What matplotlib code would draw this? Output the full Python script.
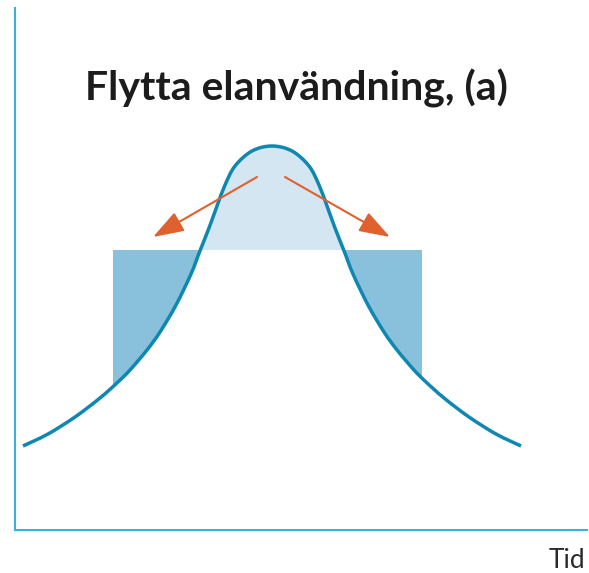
import matplotlib
matplotlib.use("Agg")
import numpy as np
import matplotlib.pyplot as plt
from matplotlib.path import Path
from matplotlib.patches import PathPatch, Rectangle

# Schematic load curve (x: time, y: load, in picture units)
tid = [8, 33, 60, 85, 103, 115, 132, 145, 161, 176, 184.5, 194, 202, 210, 220, 237, 257,
       277, 294, 304, 312, 320, 329.5, 338, 353, 369, 382, 399, 411, 429, 454, 481, 506]
last = [84, 96, 113, 132, 148, 160, 180, 198, 225, 256, 278, 302, 324, 345, 364, 379, 384,
        379, 364, 345, 324, 302, 278, 256, 225, 198, 180, 160, 148, 132, 113, 96, 84]

# Flattened block (start, end, level)
block_start = 98
block_end = 407
block_level = 280

# Arrows: (from x, from y, to x, to y)
arrows = [(242, 353, 138, 293), (270, 353, 375, 293)]

title = "Flytta elanvändning, (a)"
xlabel = "Tid"

curve_color = "#0e87b1"
dark_fill = "#89c0dc"
light_fill = "#d4e6f2"
arrow_color = "#e0612e"
axis_color = "#3ab1dc"


def smooth_path(xs, ys, close_to=None):
    # cubic bezier through the read points (catmull-rom style handles)
    p = np.column_stack([xs, ys]).astype(float)
    ext = np.vstack([p[0], p, p[-1]])
    verts = [p[0]]
    codes = [Path.MOVETO]
    for i in range(len(p) - 1):
        a, b, c, d = ext[i], ext[i + 1], ext[i + 2], ext[i + 3]
        verts += [b + (c - a) / 6, c - (d - b) / 6, c]
        codes += [Path.CURVE4] * 3
    if close_to is not None:
        verts += [(p[-1, 0], close_to), (p[0, 0], close_to), p[0]]
        codes += [Path.LINETO, Path.LINETO, Path.CLOSEPOLY]
    return Path(verts, codes)


fig = plt.figure(figsize=(5.89, 5.73), dpi=100)
ax = fig.add_axes([15 / 589, 43 / 573, 572 / 589, 522 / 573])
ax.set_xlim(0, 572)
ax.set_ylim(0, 522)

# block part that fills the valley (dark)
ax.add_patch(Rectangle((block_start, 0), block_end - block_start, block_level,
                       color=dark_fill, lw=0, zorder=1))
# area under the curve stays white
under = PathPatch(smooth_path(tid, last, close_to=0), facecolor="white",
                  edgecolor="none", zorder=1.5)
ax.add_patch(under)
# peak above the block level (light)
peak = Rectangle((block_start, block_level), block_end - block_start, 200,
                 color=light_fill, lw=0, zorder=1.6)
ax.add_patch(peak)
peak.set_clip_path(under)

ax.add_patch(PathPatch(smooth_path(tid, last), facecolor="none",
                       edgecolor=curve_color, lw=2.5, zorder=3))

for x0, y0, x1, y1 in arrows:
    ax.annotate("", xy=(x1, y1), xytext=(x0, y0),
                arrowprops=dict(arrowstyle="-|>,head_length=1.9,head_width=0.65",
                                mutation_scale=10, color=arrow_color, lw=1.5,
                                shrinkA=0, shrinkB=0), zorder=4)

for side in ["top", "right"]:
    ax.spines[side].set_visible(False)
for side in ["left", "bottom"]:
    ax.spines[side].set_color(axis_color)
    ax.spines[side].set_linewidth(1.5)
ax.set_xticks([])
ax.set_yticks([])

fig.text(296 / 589, 1 - 100 / 573, title, ha="center", va="baseline",
         fontsize=29.5, fontweight="bold", family="Lato", color="#1c1c1c")
fig.text(585 / 589, 1 - 568 / 573, xlabel, ha="right", va="baseline",
         fontsize=19, family="Lato", color="#2a2a2a")

fig.savefig("out.png", dpi=100)
